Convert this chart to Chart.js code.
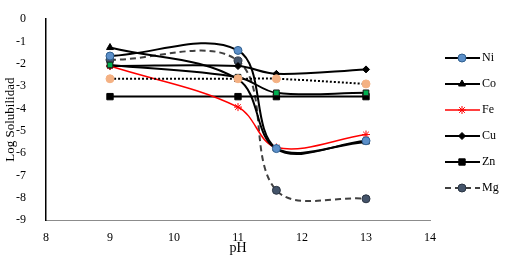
<!DOCTYPE html>
<html>
<head>
<meta charset="utf-8">
<script src="https://cdn.jsdelivr.net/npm/chart.js@4.4.1/dist/chart.umd.min.js"></script>
<style>body{margin:0;background:#fff}</style>
</head>
<body>
<canvas id="solChart" width="508" height="261"></canvas>
<script>
const phValues = [9, 11, 11.6, 13];
const niValues = [-1.65, -1.4, -5.8, -5.45];
const coValues = [-1.27, -2.7, -5.8, -5.5];
const feValues = [-2.1, -3.94, -5.75, -5.17];
const cuValues = [-2.1, -2.1, -2.45, -2.25];
const znValues = [-3.47, -3.47, -3.47, -3.47];
const mgValues = [-1.82, -1.87, -7.67, -8.05];
// two more series appear in the plot but not in the legend
const extraAValues = [-2.67, -2.67, -2.67, -2.9];
const extraBValues = [-2.05, -2.6, -3.3, -3.3];
const legendNames = ['Ni', 'Co', 'Fe', 'Cu', 'Zn', 'Mg'];
const xRange = [8, 14];
const yRange = [-9, 0];

const serif = '"Liberation Serif", "Times New Roman", serif';

function pts(vals) {
    return phValues.map((x, i) => ({ x: x, y: vals[i] }));
}

function series(label, vals, line, fill, edge, style, r, extra) {
    return Object.assign({
        label: label,
        data: pts(vals),
        borderColor: line,
        borderWidth: 2,
        pointBackgroundColor: fill,
        pointBorderColor: edge,
        pointBorderWidth: 1,
        pointStyle: style,
        pointRadius: r,
        tension: 0.36,
        fill: false
    }, extra || {});
}

const sideLegend = {
    id: 'sideLegend',
    afterDraw(chart) {
        const ctx = chart.ctx;
        let y = 58;
        legendNames.forEach(name => {
            const ds = chart.data.datasets.find(d => d.label === name);
            ctx.save();
            ctx.strokeStyle = ds.borderColor;
            ctx.lineWidth = ds.borderWidth;
            ctx.setLineDash(ds.borderDash || []);
            ctx.beginPath();
            ctx.moveTo(445, y);
            ctx.lineTo(480, y);
            ctx.stroke();
            ctx.setLineDash([]);
            ctx.fillStyle = ds.pointBackgroundColor;
            ctx.strokeStyle = ds.pointBorderColor;
            ctx.lineWidth = 1;
            Chart.helpers.drawPoint(ctx, { pointStyle: ds.pointStyle, radius: ds.pointRadius, borderWidth: 1, rotation: 0 }, 462, y);
            ctx.fillStyle = '#000';
            ctx.font = '12px ' + serif;
            ctx.textBaseline = 'middle';
            ctx.fillText(name, 482, y);
            ctx.restore();
            y += 26;
        });
    }
};

const ctx1 = document.getElementById('solChart').getContext('2d');
const solChart = new Chart(ctx1, {
    type: 'line',
    data: {
        datasets: [
            series('extraA', extraAValues, '#000', '#f4b183', '#f4b183', 'circle', 4, { borderDash: [2, 2] }),
            series('extraB', extraBValues, '#000', '#00b050', '#1a1a1a', 'rect', 4),
            series('Ni', niValues, '#000', '#5b8fc9', '#2f5f8f', 'circle', 4),
            series('Co', coValues, '#000', '#000', '#000', 'triangle', 4),
            series('Fe', feValues, '#ff0000', '#ff0000', '#ff0000', 'star', 4, { borderWidth: 1.5 }),
            series('Cu', cuValues, '#000', '#000', '#000', 'rectRot', 3.5),
            series('Zn', znValues, '#000', '#000', '#000', 'rect', 4.5),
            series('Mg', mgValues, '#404040', '#44546a', '#2a3442', 'circle', 4, { borderDash: [6, 4] })
        ]
    },
    options: {
        responsive: false,
        devicePixelRatio: 1,
        animation: false,
        layout: { padding: { top: 8, right: 78, left: 0, bottom: 0 } },
        plugins: { legend: { display: false }, tooltip: { enabled: false } },
        scales: {
            x: {
                type: 'linear',
                min: xRange[0],
                max: xRange[1],
                afterFit(scale) { scale.height = 41; },
                grid: { display: false },
                border: { display: true, color: '#8c8c8c', width: 1 },
                ticks: { stepSize: 1, padding: 3, color: '#000', font: { family: serif, size: 12 } },
                title: { display: true, text: 'pH', color: '#000', padding: { top: 0, bottom: 4 }, font: { family: serif, size: 14 } }
            },
            y: {
                min: yRange[0],
                max: yRange[1],
                afterFit(scale) { scale.width = 46; },
                grid: { display: false },
                border: { display: true, color: '#000', width: 1.5 },
                ticks: { stepSize: 1, padding: 12, color: '#000', font: { family: serif, size: 12 } },
                title: { display: true, text: 'Log Solubilidad', color: '#000', padding: { top: 3, bottom: 0 }, font: { family: serif, size: 13 } }
            }
        }
    },
    plugins: [sideLegend]
});
</script>
</body>
</html>
